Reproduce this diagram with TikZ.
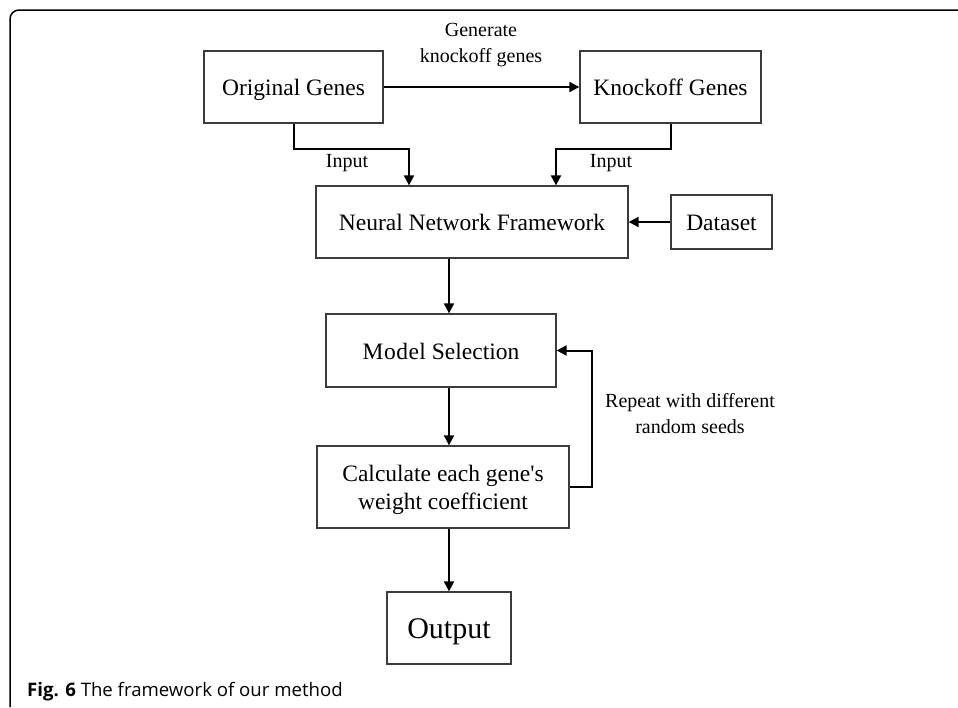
\documentclass[tikz,border=0pt]{standalone}
\usepackage{fontspec}
\setmainfont{Liberation Serif}
\newfontfamily\capfont{Open Sans}
\usetikzlibrary{arrows.meta}
\definecolor{boxline}{RGB}{60,60,60}
\tikzset{
  box/.style={draw=boxline, line width=1.3pt, rectangle, inner sep=0pt, align=center,
    font=\fontsize{23.5}{28}\selectfont},
  one/.style={text height=20pt, text depth=3pt},
  arr/.style={draw=black, line width=2pt, -{Triangle[length=10pt,width=10pt]}},
  lbl/.style={inner sep=0pt, align=center, font=\fontsize{20}{25.5}\selectfont}
}
\begin{document}
\begin{tikzpicture}[x=1pt,y=-1pt]
\useasboundingbox (0,0) rectangle (958,707);
% frame
\draw[line width=1.5pt, rounded corners=9pt] (958,10) -- (10,10) -- (10,707);
% nodes
\node[box, one, minimum width=179pt, minimum height=72pt] (orig) at (293.5,87) {Original Genes};
\node[box, one, minimum width=181pt, minimum height=72pt] (knock) at (670.5,87) {Knockoff Genes};
\node[box, one, minimum width=312pt, minimum height=72pt] (nn) at (472,222) {Neural Network Framework};
\node[box, one, minimum width=101pt, minimum height=54pt] (data) at (721.5,222) {Dataset};
\node[box, one, minimum width=230pt, minimum height=73pt] (model) at (441,350.5) {M\kern0.5pt o\kern0.5pt d\kern0.5pt e\kern0.5pt l Selection};
\node[box, text depth=0pt, minimum width=252pt, minimum height=82pt] (calc) at (443,487) {Calculate each gene\textquotesingle s\\weight coefficient};
\node[box, minimum width=124pt, minimum height=72pt, font=\fontsize{30}{36}\selectfont, text height=24pt, text depth=4pt] (out) at (449,628) {Output};
% labels
\node[lbl] (gen) at (481,45) {Generate\\knockoff genes};
\node[lbl] (in1) at (347,163) {Input};
\node[lbl] (in2) at (611,163) {Input};
\node[lbl] (rep) at (690,413.5) {Repeat with different\\random seeds};
% connectors
\draw[arr] (orig) -- (knock);
\draw[arr] (orig.south) -- ++(0,25) -| ([xshift=-63pt]nn.north);
\draw[arr] (knock.south) -- ++(0,25) -| ([xshift=84pt]nn.north);
\draw[arr] (data) -- (nn);
\draw[arr] (nn.south -| out.north) -- (model.north -| out.north);
\draw[arr] (model.south -| out.north) -- (calc.north -| out.north);
\draw[arr] (calc.south -| out.north) -- (out.north);
\draw[arr] (calc.east) -- ++(22,0) |- (model.east);
% caption
\node[anchor=base west, inner sep=0pt, font=\capfont\fontsize{18.6}{22}\selectfont] (cap) at (27,696) {\textbf{Fig. 6} The framework of our method};
\end{tikzpicture}
\end{document}
